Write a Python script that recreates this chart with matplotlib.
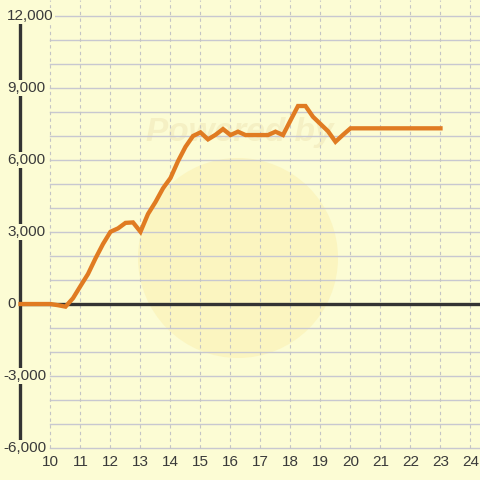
import numpy as np
import matplotlib
matplotlib.use('Agg')
import matplotlib.pyplot as plt
from matplotlib.patches import Circle

# quarter hours from 9:00 to 23:00
hours = np.arange(9, 23.01, 0.25)
values = [0, 0, 0, 0, 0, -50, -110, 240,
          750, 1250, 1900, 2500, 3010, 3150, 3380, 3400,
          3010, 3750, 4250, 4820, 5250, 5950, 6550, 7000,
          7150, 6860, 7050, 7290, 7040, 7180, 7040, 7040,
          7040, 7040, 7180, 7040, 7650, 8250, 8250, 7800,
          7500, 7200, 6760, 7050, 7320, 7320, 7320, 7320,
          7320, 7320, 7320, 7320, 7320, 7320, 7320, 7320,
          7320]
x_ticks = list(range(10, 25))
y_ticks = [-6000, -3000, 0, 3000, 6000, 9000, 12000]

bg = '#fcfcd4'
txt = '#3a3a3a'
plt.rcParams['font.family'] = ['Liberation Sans', 'DejaVu Sans']

fig = plt.figure(figsize=(4.8, 4.8), dpi=100)
fig.patch.set_facecolor(bg)
ax = fig.add_axes([0, 0, 1, 1])
ax.set_facecolor(bg)
ax.set_xlim(8.317, 24.317)
ax.set_ylim(-7333, 12667)
ax.axis('off')

# watermark
ax.add_patch(Circle((238 / 480, 1 - 258 / 480), 100 / 480, transform=ax.transAxes,
                    facecolor='#fbf0b0', edgecolor='none', alpha=0.55, zorder=0))
ax.text(240 / 480, 1 - 132 / 480, 'Powered by', transform=ax.transAxes, ha='center', va='center',
        fontsize=24, fontweight='bold', style='italic', color='#f5f0c4', zorder=0.5)

# grid
for v in range(-6000, 12001, 1000):
    ax.plot([10, 24.317], [v, v], color='#c8c8d0', lw=1, zorder=1)
for xv in x_ticks:
    ax.plot([xv, xv], [-6000, 12667], color='#c4c4c4', lw=0.8, ls=(0, (3, 3)), zorder=1)

# axis lines
ax.plot([9, 9], [-6000, 12000], color='#333333', lw=2.4, zorder=2, solid_capstyle='butt')
ax.plot([9, 24.317], [0, 0], color='#333333', lw=2.4, zorder=2, solid_capstyle='butt')

ax.plot(hours, values, color='#e07b22', lw=3.1, zorder=3, solid_joinstyle='miter')

for v in y_ticks:
    xpos = 3 / 480 if v < 0 else 7 / 480
    ax.text(xpos, v, '{:,}'.format(v), transform=ax.get_yaxis_transform(),
            ha='left', va='center', fontsize=11, color=txt, zorder=4,
            bbox=dict(facecolor=bg, edgecolor='none', pad=1))
for xv in x_ticks:
    ax.text(xv, -6580, str(xv), ha='center', va='center', fontsize=11, color=txt, zorder=4)

fig.savefig('out.png', dpi=100, facecolor=bg)
